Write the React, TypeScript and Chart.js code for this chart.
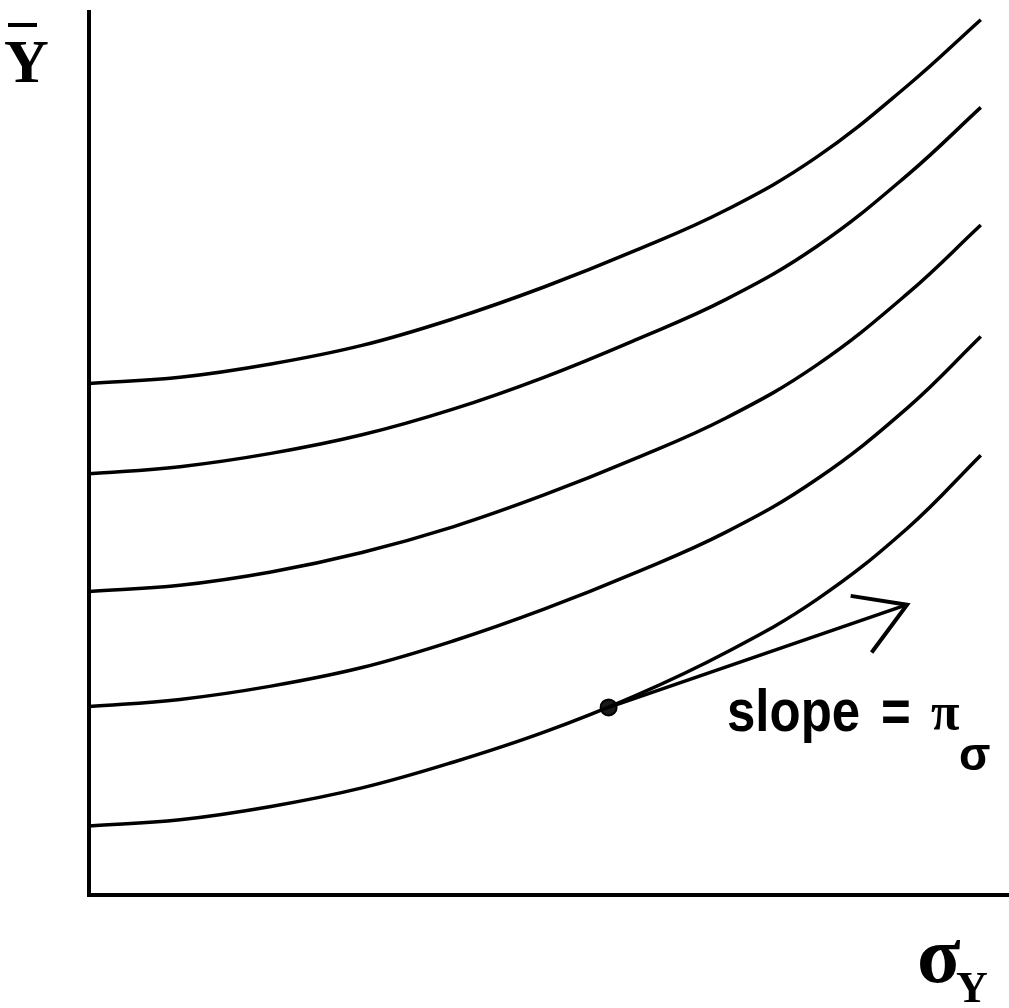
import React, { useEffect, useRef } from "react";
import { Chart, registerables } from "chart.js";

Chart.register(...registerables);

// sigma_Y positions (x units) at which the curves were read
const sigmaGrid = [0, 1, 2, 3, 4, 5, 6, 7, 8, 9, 9.8];
// mean return (Y-bar) of each indifference curve at those sigma values
const curve1 = [5.78, 5.85, 6.0, 6.21, 6.51, 6.87, 7.28, 7.74, 8.34, 9.15, 9.89];
const curve2 = [4.76, 4.84, 4.99, 5.2, 5.49, 5.85, 6.27, 6.73, 7.33, 8.14, 8.9];
const curve3 = [3.43, 3.5, 3.65, 3.87, 4.16, 4.52, 4.93, 5.39, 5.99, 6.8, 7.57];
const curve4 = [2.13, 2.21, 2.36, 2.57, 2.87, 3.23, 3.64, 4.1, 4.7, 5.51, 6.31];
const curve5 = [0.78, 0.85, 1.0, 1.21, 1.5, 1.84, 2.25, 2.74, 3.34, 4.15, 4.97];
const curves = [curve1, curve2, curve3, curve4, curve5];

// tangent point on the lowest curve, and the arrow of the tangent
const tangentPoint = [5.71, 2.12];
const arrowTip = [8.99, 3.28];
const arrowWingUpper = [8.37, 3.38];
const arrowWingLower = [8.6, 2.74];

const X_MAX = 10;
const Y_MAX = 10;

const toPoints = (ys: number[]) => ys.map((y, i) => ({ x: sigmaGrid[i], y }));
const pt = (p: number[]) => ({ x: p[0], y: p[1] });

export default function App() {
  const ref = useRef<HTMLCanvasElement | null>(null);

  useEffect(() => {
    if (!ref.current) return;

    const axesPlugin = {
      id: "axesPlugin",
      beforeDatasetsDraw(chart: any) {
        const { ctx, chartArea } = chart;
        ctx.save();
        ctx.strokeStyle = "#000";
        ctx.lineWidth = 4;
        ctx.lineCap = "butt";
        ctx.beginPath();
        ctx.moveTo(chartArea.left, chartArea.top);
        ctx.lineTo(chartArea.left, chartArea.bottom + 2);
        ctx.moveTo(chartArea.left - 2, chartArea.bottom);
        ctx.lineTo(chart.width, chartArea.bottom);
        ctx.stroke();
        ctx.restore();
      },
      afterDraw(chart: any) {
        const { ctx } = chart;
        ctx.save();
        ctx.fillStyle = "#000";
        ctx.strokeStyle = "#000";
        ctx.textBaseline = "alphabetic";
        ctx.textAlign = "left";

        // Y-bar axis label
        ctx.font = 'bold 62px "Liberation Serif"';
        ctx.fillText("Y", 4, 82);
        ctx.lineWidth = 4;
        ctx.beginPath();
        ctx.moveTo(8, 25);
        ctx.lineTo(37, 25);
        ctx.stroke();

        // sigma_Y axis label
        ctx.font = 'bold 80px "Liberation Serif"';
        ctx.fillText("σ", 917, 982);
        ctx.font = 'bold 44px "Liberation Serif"';
        ctx.fillText("Y", 956, 1002);

        // slope annotation (condensed bold sans)
        ctx.save();
        ctx.font = 'bold 60px "Liberation Sans"';
        ctx.translate(727, 731);
        ctx.scale(0.85, 1);
        ctx.fillText("slope", 0, 0);
        ctx.restore();
        ctx.save();
        ctx.font = 'bold 60px "Liberation Sans"';
        ctx.translate(881, 731);
        ctx.scale(0.85, 1);
        ctx.fillText("=", 0, 0);
        ctx.restore();
        ctx.font = 'bold 52px "Liberation Serif"';
        ctx.fillText("π", 931, 729);
        ctx.font = 'bold 46px "Liberation Sans"';
        ctx.fillText("σ", 959, 770);
        ctx.restore();
      },
    };

    const lineStyle = {
      borderColor: "#000",
      borderWidth: 3.5,
      pointRadius: 0,
      fill: false,
    };

    const datasets: any[] = curves.map((c, i) => ({
      label: `curve ${i + 1}`,
      data: toPoints(c),
      tension: 0.4,
      ...lineStyle,
    }));
    datasets.push({
      label: "tangent",
      data: [pt(tangentPoint), pt(arrowTip)],
      ...lineStyle,
      borderWidth: 3.5,
    });
    datasets.push({
      label: "arrowhead",
      data: [pt(arrowWingUpper), pt(arrowTip), pt(arrowWingLower)],
      ...lineStyle,
      borderWidth: 4,
      borderJoinStyle: "miter",
    });
    datasets.push({
      label: "point",
      data: [pt(tangentPoint)],
      showLine: false,
      pointRadius: 8,
      pointBackgroundColor: "#1a1a1a",
      pointBorderColor: "#000",
      pointBorderWidth: 2,
    });

    const chart = new Chart(ref.current, {
      type: "scatter",
      data: { datasets },
      options: {
        animation: false,
        responsive: false,
        devicePixelRatio: 1,
        showLine: true,
        layout: { padding: { left: 89, right: 0, top: 5, bottom: 113 } },
        plugins: {
          legend: { display: false },
          tooltip: { enabled: false },
        },
        scales: {
          x: { type: "linear", min: 0, max: X_MAX, display: false },
          y: { type: "linear", min: 0, max: Y_MAX, display: false },
        },
      },
      plugins: [axesPlugin],
    } as any);

    return () => chart.destroy();
  }, []);

  return (
    <div style={{ position: "absolute", left: 0, top: 0, width: 1009, height: 1008, background: "#fff" }}>
      <canvas ref={ref} width={1009} height={1008} />
    </div>
  );
}
